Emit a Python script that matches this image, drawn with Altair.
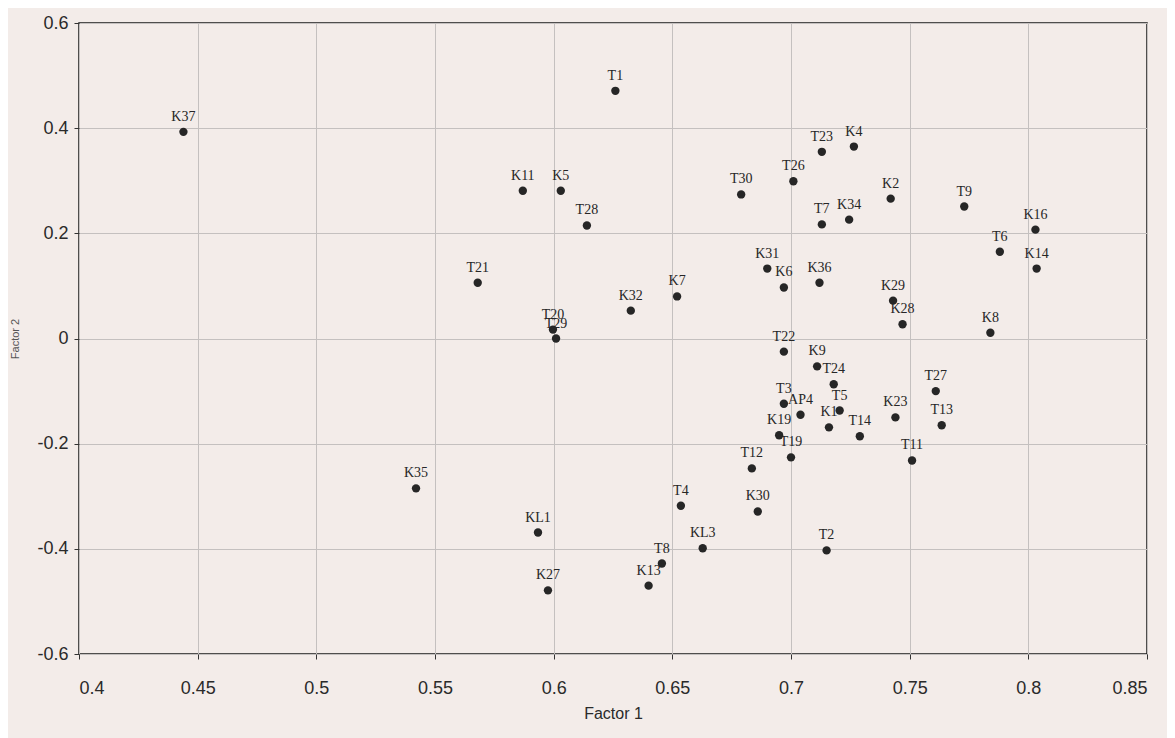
import altair as alt
import pandas as pd

labels = ["K37", "T1", "K11", "K5", "T28", "T30", "T23", "K4", "T26", "K2", "T9", "T7", "K34",
          "K16", "T6", "K14", "K31", "K6", "K36", "K29", "K28", "K8", "T22", "K9", "T24",
          "T3", "AP4", "T5", "K1", "T14", "K23", "T27", "T13", "K19", "T19", "T12", "T11",
          "K35", "KL1", "K27", "K13", "T8", "KL3", "T4", "K30", "T2",
          "T21", "K7", "K32", "T20", "T29"]
factor1 = [0.444, 0.626, 0.587, 0.603, 0.614, 0.679, 0.713, 0.7265, 0.701, 0.742, 0.773, 0.713, 0.7245,
           0.803, 0.788, 0.8035, 0.690, 0.697, 0.712, 0.743, 0.747, 0.784, 0.697, 0.711, 0.718,
           0.697, 0.704, 0.7205, 0.716, 0.729, 0.744, 0.761, 0.7635, 0.695, 0.700, 0.6835, 0.751,
           0.542, 0.5934, 0.5976, 0.640, 0.6456, 0.6628, 0.6536, 0.686, 0.715,
           0.568, 0.652, 0.6325, 0.5997, 0.601]
factor2 = [0.393, 0.471, 0.281, 0.281, 0.215, 0.274, 0.355, 0.365, 0.299, 0.266, 0.251, 0.217, 0.226,
           0.207, 0.165, 0.133, 0.133, 0.097, 0.106, 0.072, 0.027, 0.011, -0.025, -0.053, -0.087,
           -0.124, -0.145, -0.137, -0.169, -0.186, -0.150, -0.100, -0.165, -0.184, -0.226, -0.247, -0.232,
           -0.285, -0.369, -0.479, -0.470, -0.428, -0.399, -0.318, -0.329, -0.403,
           0.106, 0.080, 0.053, 0.017, 0.000]

x_ticks = [0.4, 0.45, 0.5, 0.55, 0.6, 0.65, 0.7, 0.75, 0.8, 0.85]
y_ticks = [-0.6, -0.4, -0.2, 0.0, 0.2, 0.4, 0.6]

df = pd.DataFrame({"label": labels, "f1": factor1, "f2": factor2})

x_enc = alt.X("f1:Q", scale=alt.Scale(domain=[0.4, 0.85], nice=False, zero=False),
              axis=alt.Axis(values=x_ticks, title="Factor 1",
                            labelExpr="toString(round(datum.value*100)/100)",
                            labelFont="Liberation Sans", labelFontSize=18, labelColor="#2a2a2a",
                            labelPadding=20, tickSize=5, tickColor="#333", domain=False,
                            titleFont="Liberation Sans", titleFontSize=16, titleFontWeight="normal",
                            titleColor="#2a2a2a", titlePadding=8,
                            gridColor="#c4c0bf", gridWidth=1))
y_enc = alt.Y("f2:Q", scale=alt.Scale(domain=[-0.6, 0.6], nice=False, zero=False),
              axis=alt.Axis(values=y_ticks, title="Factor 2",
                            labelExpr="datum.value == 0 ? '0' : toString(round(datum.value*10)/10)",
                            labelFont="Liberation Sans", labelFontSize=18, labelColor="#2a2a2a",
                            labelPadding=6, tickSize=5, tickColor="#333", domain=False,
                            titleFont="Liberation Sans", titleFontSize=11, titleFontWeight="normal",
                            titleColor="#555", titlePadding=16,
                            gridColor="#c4c0bf", gridWidth=1))

points = alt.Chart(df).mark_circle(size=70, color="#262626", opacity=1).encode(x=x_enc, y=y_enc)
text = alt.Chart(df).mark_text(dy=-15, font="Liberation Serif", fontSize=14, color="#262626").encode(
    x="f1:Q", y="f2:Q", text="label:N")

chart = (points + text).properties(
    width=1068, height=631,
    padding={"left": 71, "top": 15, "right": 20, "bottom": 84},
    autosize=alt.AutoSizeParams(type="none"),
    background="#f3ece9",
).configure_view(stroke="#1a1a1a", strokeWidth=1.5, fill="#f3ece9")

chart.save("out.html", embed_options={"renderer": "svg", "actions": False})
